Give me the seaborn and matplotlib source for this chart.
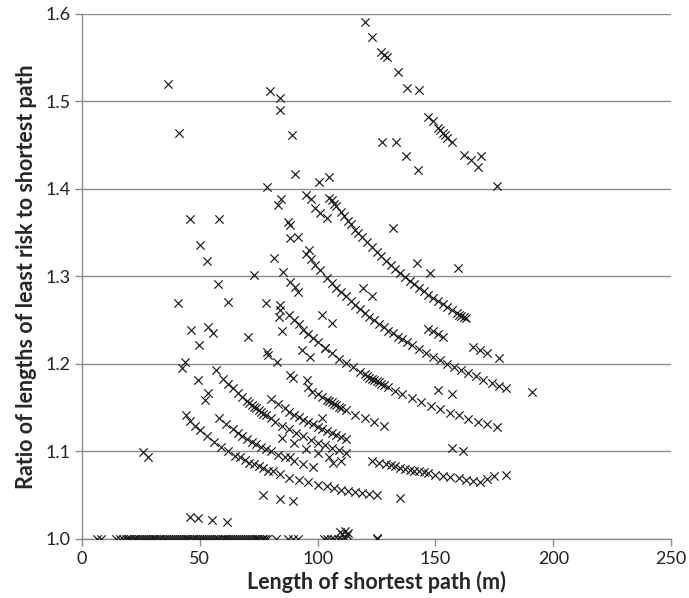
import matplotlib
matplotlib.use("Agg")
import matplotlib.pyplot as plt
import seaborn as sns
import pandas as pd

# Points lying on ratio = 1.0 (least risk path == shortest path)
flat_x = [6.5, 8.0, 14.5, 16.0, 17.5, 18.5, 19.4, 20.1, 21.0, 21.9, 22.6, 23.4, 24.3, 25.0,
          25.9, 26.8, 27.5, 28.3, 29.2, 30.0, 30.7, 31.6, 32.5, 33.2, 34.1, 34.8, 35.7, 36.6,
          37.4, 38.1, 39.0, 39.9, 40.7, 41.4, 42.3, 43.2, 44.0, 44.7, 45.6, 46.5, 47.3, 48.0,
          48.9, 49.8, 50.6, 51.3, 52.2, 53.1, 53.9, 54.6, 55.5, 56.4, 57.2, 57.9, 58.8, 59.7,
          60.5, 61.2, 62.1, 63.0, 63.8, 64.5, 65.4, 66.3, 67.1, 67.8, 68.7, 69.6, 70.4, 71.1,
          72.0, 72.9, 73.7, 74.4, 75.3, 76.2, 77.0, 77.7, 78.6, 82.5, 87.5, 89.5, 91.5,
          102.5, 104.0, 105.5, 107.0, 108.5, 110.0, 111.5, 125.0]
near_flat_x = [109.5, 110.5, 111.5, 112.5, 113.0]
near_flat_y = [1.008, 1.005, 1.009, 1.004, 1.007]

# Curved bands
band_a_x = [105, 106, 107, 108, 110, 111, 113, 114, 116, 117, 119, 121, 123, 125, 127, 129,
            131, 133, 135, 137, 139, 141, 143, 145, 147, 149, 151, 153, 155, 157, 159, 160,
            161, 162, 163]
band_a_y = [1.390, 1.387, 1.383, 1.380, 1.373, 1.369, 1.363, 1.360, 1.353, 1.350, 1.345,
            1.339, 1.333, 1.328, 1.323, 1.318, 1.313, 1.308, 1.304, 1.299, 1.295, 1.291,
            1.287, 1.283, 1.279, 1.275, 1.272, 1.268, 1.265, 1.261, 1.258, 1.256, 1.255,
            1.253, 1.252]

band_b_x = [95, 97, 99, 101, 104, 106, 108, 110, 112, 114, 116, 118, 120, 122, 124, 126, 128,
            130, 132, 134, 136, 138, 140, 143, 146, 149, 152, 155, 158, 161, 164, 167, 170,
            174, 177, 180]
band_b_y = [1.326, 1.320, 1.313, 1.307, 1.298, 1.292, 1.287, 1.282, 1.277, 1.272, 1.267,
            1.263, 1.258, 1.254, 1.250, 1.246, 1.242, 1.238, 1.235, 1.231, 1.228, 1.225,
            1.221, 1.217, 1.212, 1.208, 1.204, 1.200, 1.196, 1.193, 1.189, 1.186, 1.182,
            1.178, 1.175, 1.172]

band_c_x = [88, 90, 92, 94, 96, 98, 100, 103, 106, 109, 112, 115, 118, 120, 121, 122, 123,
            124, 125, 126, 127, 128, 130, 133, 136, 140, 144, 148, 152, 156, 160, 164, 168,
            172, 176]
band_c_y = [1.256, 1.250, 1.245, 1.239, 1.234, 1.230, 1.225, 1.218, 1.212, 1.206, 1.201,
            1.196, 1.191, 1.188, 1.186, 1.184, 1.183, 1.181, 1.180, 1.179, 1.177, 1.176,
            1.173, 1.169, 1.165, 1.161, 1.156, 1.152, 1.148, 1.144, 1.141, 1.137, 1.134,
            1.131, 1.128]

band_d_x = [100, 102, 104, 105, 106, 107, 108, 109, 110, 112, 116, 120, 124, 128]
band_d_y = [1.165, 1.162, 1.159, 1.157, 1.156, 1.154, 1.153, 1.151, 1.150, 1.147, 1.142,
            1.138, 1.133, 1.129]

band_e_x = [80, 83, 86, 88, 90, 92, 94, 96, 98, 100, 102, 104, 106, 108, 110, 112]
band_e_y = [1.160, 1.154, 1.149, 1.145, 1.142, 1.139, 1.136, 1.133, 1.131, 1.128, 1.125,
            1.123, 1.121, 1.119, 1.116, 1.114]

band_f_x = [57, 60, 62, 64, 66, 68, 70, 71, 72, 73, 74, 75, 76, 77, 78, 80, 82, 85, 88, 91,
            94, 97, 100, 103, 106, 109, 112, 123, 126, 129, 131, 133, 135, 137, 139, 141,
            143, 145, 147, 150, 153, 156, 160, 163, 166, 169, 172, 175, 180]
band_f_y = [1.193, 1.183, 1.177, 1.172, 1.167, 1.162, 1.157, 1.155, 1.153, 1.151, 1.149,
            1.147, 1.145, 1.143, 1.141, 1.138, 1.134, 1.129, 1.125, 1.121, 1.117, 1.113,
            1.110, 1.107, 1.104, 1.101, 1.098, 1.089, 1.087, 1.085, 1.084, 1.083, 1.081,
            1.080, 1.079, 1.078, 1.077, 1.076, 1.075, 1.073, 1.072, 1.071, 1.069, 1.067,
            1.066, 1.065, 1.068, 1.072, 1.073]

band_g_x = [58, 61, 64, 66, 68, 70, 72, 74, 76, 78, 80, 83, 86, 90, 94, 98]
band_g_y = [1.138, 1.131, 1.125, 1.121, 1.118, 1.114, 1.111, 1.108, 1.105, 1.103, 1.100,
            1.096, 1.093, 1.089, 1.085, 1.082]

band_h_x = [44, 46, 48, 50, 53, 56, 59, 62, 65, 67, 69, 71, 73, 75, 77, 79, 81, 84, 88, 92,
            96, 100, 104, 107, 110, 113, 116, 119, 122, 125, 135]
band_h_y = [1.141, 1.135, 1.129, 1.124, 1.117, 1.111, 1.105, 1.100, 1.095, 1.093, 1.090,
            1.087, 1.085, 1.083, 1.081, 1.078, 1.077, 1.074, 1.070, 1.067, 1.065, 1.062,
            1.060, 1.058, 1.056, 1.055, 1.053, 1.052, 1.051, 1.050, 1.047]

band_i_x = [85, 90, 95, 100, 105, 110]
band_i_y = [1.115, 1.109, 1.103, 1.098, 1.093, 1.089]

band_top_x = [120, 123, 127, 128, 129.5, 134, 138, 143, 147, 149, 151, 152, 153, 154, 155,
              157, 162, 165, 168, 169.5, 176]
band_top_y = [1.591, 1.574, 1.556, 1.553, 1.551, 1.533, 1.515, 1.513, 1.482, 1.477, 1.470,
              1.467, 1.464, 1.461, 1.458, 1.453, 1.439, 1.433, 1.425, 1.437, 1.403]

band_j_x = [95, 97, 99, 101, 104, 147, 149, 151, 153, 166, 169, 172, 177]
band_j_y = [1.393, 1.388, 1.378, 1.372, 1.367, 1.240, 1.237, 1.234, 1.231, 1.219, 1.216,
            1.212, 1.207]

# Scattered points
loose_x = [36.5, 41.2, 79.8, 84.0, 84.0, 89.1, 90.4, 78.5, 83.2, 84.5, 100.6, 104.8, 45.8,
           58.2, 50.1, 53.0, 57.6, 73.0, 81.5, 87.4, 88.3, 88.3, 91.7, 96.3, 85.3, 88.3,
           90.4, 91.7, 119.3, 123.1, 132.0, 127.3, 133.3, 137.5, 142.6, 142.2, 147.7,
           159.6, 151.1, 157.0, 191.0, 157.0, 161.7, 25.9, 28.0, 45.8, 49.2, 55.2, 61.5,
           76.8, 84.0, 89.6, 40.7, 62.0, 78.0, 84.0, 84.0, 83.6, 84.9, 46.3, 53.5, 55.6,
           49.7, 70.5, 43.7, 42.4, 49.2, 53.5, 52.2, 78.5, 79.0, 82.8, 93.4, 96.8, 88.3,
           89.6, 95.5, 95.9, 97.6, 103.0, 101.9, 106.0, 101.9, 106.5, 88.3, 125.2]
loose_y = [1.520, 1.464, 1.512, 1.504, 1.490, 1.462, 1.417, 1.402, 1.382, 1.388, 1.408,
           1.414, 1.365, 1.365, 1.336, 1.317, 1.291, 1.302, 1.321, 1.362, 1.359, 1.344,
           1.345, 1.330, 1.305, 1.294, 1.288, 1.282, 1.287, 1.277, 1.355, 1.453, 1.453,
           1.438, 1.422, 1.315, 1.304, 1.310, 1.170, 1.165, 1.168, 1.104, 1.100, 1.099,
           1.093, 1.025, 1.024, 1.022, 1.019, 1.050, 1.046, 1.043, 1.270, 1.271, 1.269,
           1.267, 1.262, 1.253, 1.237, 1.239, 1.242, 1.235, 1.222, 1.231, 1.202, 1.195,
           1.182, 1.167, 1.159, 1.214, 1.210, 1.202, 1.216, 1.208, 1.187, 1.184, 1.182,
           1.173, 1.168, 1.218, 1.256, 1.247, 1.138, 1.087, 1.094, 1.001]

xs = (flat_x + near_flat_x + band_a_x + band_b_x + band_c_x + band_d_x + band_e_x + band_f_x
      + band_g_x + band_h_x + band_i_x + band_top_x + band_j_x + loose_x)
ys = ([1.0] * len(flat_x) + near_flat_y + band_a_y + band_b_y + band_c_y + band_d_y + band_e_y
      + band_f_y + band_g_y + band_h_y + band_i_y + band_top_y + band_j_y + loose_y)
df = pd.DataFrame({"length": xs, "ratio": ys})

sns.set_style("white")
plt.rcParams["font.family"] = ["Lato", "DejaVu Sans"]

fig = plt.figure(figsize=(6.89, 5.98), dpi=100)
ax = fig.add_axes([0.119, 0.099, 0.855, 0.878])

sns.scatterplot(data=df, x="length", y="ratio", marker="x", color="#1a1a1a", s=36,
                linewidth=0.85, ax=ax, zorder=3)

grid_col = "#8c8c8c"
ax.set_xlim(0, 250)
ax.set_ylim(1.0, 1.6)
ax.set_xticks([0, 50, 100, 150, 200, 250])
ax.set_yticks([1.0, 1.1, 1.2, 1.3, 1.4, 1.5, 1.6])
ax.set_yticklabels(["1.0", "1.1", "1.2", "1.3", "1.4", "1.5", "1.6"])
ax.yaxis.grid(True, color=grid_col, linewidth=1.0)
ax.xaxis.grid(False)
ax.set_axisbelow(True)
for side in ["top", "right"]:
    ax.spines[side].set_visible(False)
for side in ["left", "bottom"]:
    ax.spines[side].set_color(grid_col)
    ax.spines[side].set_linewidth(1.0)
ax.tick_params(axis="both", direction="out", length=5, width=1.0, color=grid_col,
               labelsize=13, labelcolor="#222222", left=True, bottom=True)

ax.set_xlabel("Length of shortest path (m)", fontsize=15.5, fontweight="bold", labelpad=3)
ax.set_ylabel("Ratio of lengths of least risk to shortest path", fontsize=15.5,
              fontweight="bold", labelpad=6)

fig.savefig("out.png", dpi=100)
